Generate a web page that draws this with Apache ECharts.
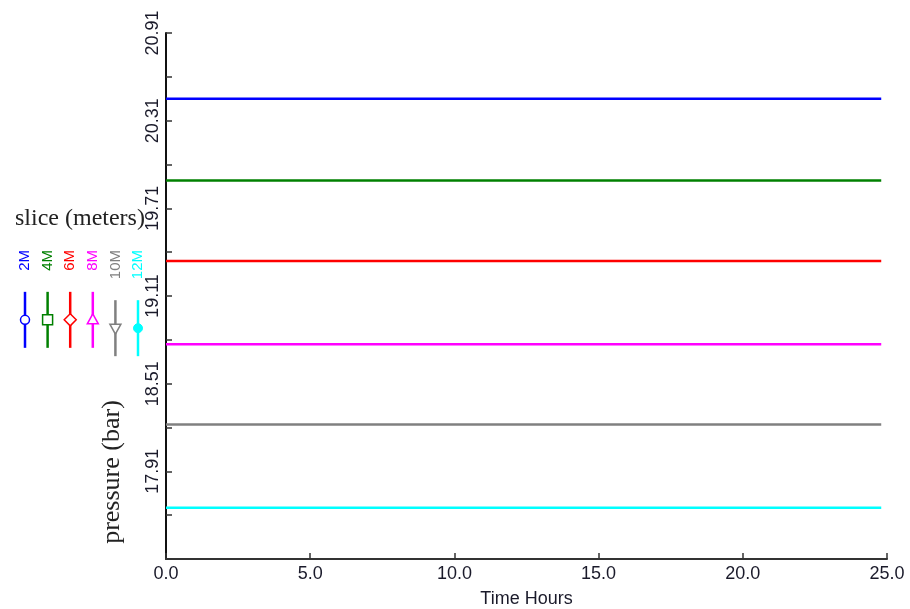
<!DOCTYPE html>
<html>
<head>
<meta charset="utf-8">
<script src="https://cdn.jsdelivr.net/npm/echarts@6/dist/echarts.min.js"></script>
<style>
html,body{margin:0;padding:0;background:#fff;}
#chart{width:910px;height:609px;}
</style>
</head>
<body>
<div id="chart"></div>
<script>
// ---- data ----
const timeHours = [0, 24.8];
const slice2M  = [20.46, 20.46];
const slice4M  = [19.90, 19.90];
const slice6M  = [19.35, 19.35];
const slice8M  = [18.78, 18.78];
const slice10M = [18.23, 18.23];
const slice12M = [17.66, 17.66];
const seriesNames = ['2M', '4M', '6M', '8M', '10M', '12M'];
const seriesValues = [slice2M, slice4M, slice6M, slice8M, slice10M, slice12M];
const yTickLabels = ['17.91', '18.51', '19.11', '19.71', '20.31', '20.91'];
const xTickLabels = ['0.0', '5.0', '10.0', '15.0', '20.0', '25.0'];
const legendTitle = 'slice (meters)';
const yAxisTitle = 'pressure (bar)';
const xAxisTitle = 'Time Hours';

// ---- styles ----
const colors = ['#0000ff', '#008000', '#ff0000', '#ff00ff', '#808080', '#00ffff'];
const markerTypes = ['circle', 'rect', 'diamond', 'triangle', 'triangleDown', 'dot'];

const chart = echarts.init(document.getElementById('chart'), null, {renderer: 'canvas'});

const series = seriesNames.map((n, i) => ({
  name: n,
  type: 'line',
  data: timeHours.map((t, k) => [t, seriesValues[i][k]]),
  showSymbol: false,
  symbol: 'none',
  lineStyle: {color: colors[i], width: 2.5},
  itemStyle: {color: colors[i]},
  animation: false,
  silent: true
}));

// legend built as graphic elements
const ctx = document.createElement('canvas').getContext('2d');
const legendFont = '15px "Liberation Sans", Arial, sans-serif';
ctx.font = legendFont;
const graphics = [];
graphics.push({
  type: 'text', left: 15, top: 207,
  style: {text: legendTitle, font: '24px "Liberation Serif", "Times New Roman", serif', fill: '#222'}
});
graphics.push({
  type: 'text', x: 112, y: 472, rotation: Math.PI / 2,
  style: {text: yAxisTitle, font: '26px "Liberation Serif", "Times New Roman", serif', fill: '#222', align: 'center', verticalAlign: 'middle'}
});
const legendX0 = 25, legendDX = 22.6, textTop = 250;
seriesNames.forEach((n, i) => {
  const cx = legendX0 + i * legendDX;
  const c = colors[i];
  graphics.push({
    type: 'text', x: cx, y: textTop, rotation: Math.PI / 2,
    style: {text: n, font: legendFont, fill: c, align: 'right', verticalAlign: 'middle'}
  });
  const tw = ctx.measureText(n).width;
  const y0 = textTop + tw + 21, y1 = y0 + 56, my = (y0 + y1) / 2;
  graphics.push({type: 'line', shape: {x1: cx, y1: y0, x2: cx, y2: y1}, style: {stroke: c, lineWidth: 2.5}});
  const mt = markerTypes[i];
  const ms = {stroke: c, lineWidth: 1.5, fill: '#fff'};
  if (mt === 'circle') graphics.push({type: 'circle', shape: {cx: cx, cy: my, r: 4.5}, style: ms});
  else if (mt === 'dot') graphics.push({type: 'circle', shape: {cx: cx, cy: my, r: 4.5}, style: {fill: c, stroke: c, lineWidth: 1}});
  else if (mt === 'rect') graphics.push({type: 'rect', shape: {x: cx - 5, y: my - 5, width: 10, height: 10}, style: ms});
  else if (mt === 'diamond') graphics.push({type: 'polygon', shape: {points: [[cx, my - 6], [cx + 6, my], [cx, my + 6], [cx - 6, my]]}, style: ms});
  else if (mt === 'triangle') graphics.push({type: 'polygon', shape: {points: [[cx, my - 6], [cx + 5.5, my + 4], [cx - 5.5, my + 4]]}, style: ms});
  else if (mt === 'triangleDown') graphics.push({type: 'polygon', shape: {points: [[cx, my + 6], [cx + 5.5, my - 4], [cx - 5.5, my - 4]]}, style: ms});
});

const axisFont = {fontFamily: '"Liberation Sans", Arial, sans-serif', fontSize: 18, color: '#1a1a2a'};

chart.setOption({
  animation: false,
  backgroundColor: '#fff',
  grid: {left: 166, right: 23, top: 33, bottom: 50, containLabel: false, outerBoundsMode: 'none'},
  xAxis: {
    type: 'value', min: 0, max: 25, interval: 5,
    name: xAxisTitle, nameLocation: 'middle', nameGap: 31,
    nameTextStyle: {fontFamily: '"Liberation Sans", Arial, sans-serif', fontSize: 18, color: '#1a1a2a'},
    axisLine: {show: true, lineStyle: {color: '#333', width: 2}},
    axisTick: {show: true, inside: true, length: 6, lineStyle: {color: '#333', width: 1.5}},
    axisLabel: Object.assign({margin: 6, formatter: v => { const s = v.toFixed(1); return xTickLabels.includes(s) ? s : ''; }}, axisFont),
    splitLine: {show: false}
  },
  yAxis: {
    type: 'value', min: 17.31, max: 20.91, interval: 0.3,
    axisLine: {show: true, lineStyle: {color: '#111', width: 2}},
    axisTick: {show: true, inside: true, length: 6, lineStyle: {color: '#333', width: 1.5}},
    axisLabel: Object.assign({rotate: 90, margin: 4, formatter: v => { const s = v.toFixed(2); return yTickLabels.includes(s) ? s : ''; }}, axisFont),
    splitLine: {show: false}
  },
  graphic: graphics,
  series: series
});
</script>
</body>
</html>
